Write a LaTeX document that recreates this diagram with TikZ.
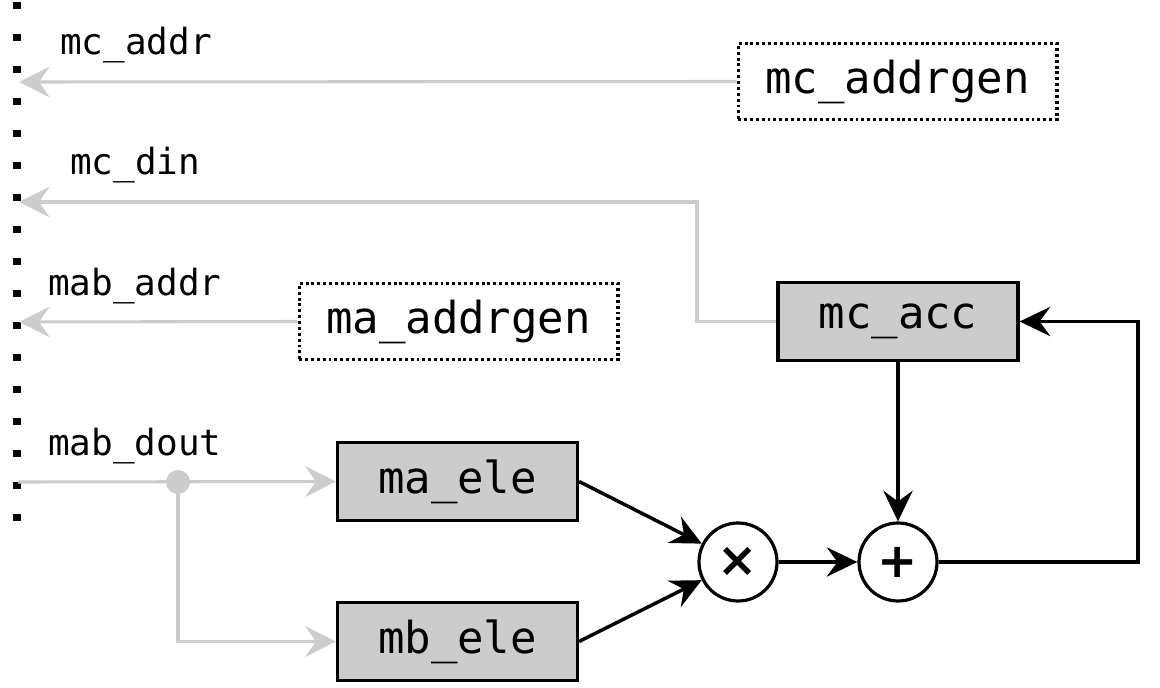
\documentclass[tikz,border=0pt]{standalone}
\usepackage{fontspec}
\setmonofont{DejaVu Sans Mono}
\newfontfamily\opfont{DejaVu Sans}
\usetikzlibrary{arrows.meta}
\definecolor{sig}{HTML}{CCCCCC}
\begin{document}
\begin{tikzpicture}[x=0.75pt,y=-0.75pt,
  blk/.style={draw=black,line width=2.4pt,fill=sig,minimum width=180pt,minimum height=59pt,inner sep=0pt,font=\ttfamily\fontsize{33}{36}\selectfont},
  gen/.style={draw=black,line width=2.5pt,dash pattern=on 2.2pt off 2.2pt,minimum width=239pt,minimum height=57pt,inner sep=0pt,font=\ttfamily\fontsize{33}{36}\selectfont},
  op/.style={circle,draw=black,line width=2.4pt,fill=white,minimum size=58.5pt,inner sep=0pt,font=\opfont\fontsize{36}{38}\selectfont\bfseries},
  lbl/.style={anchor=base west,inner sep=0pt,font=\ttfamily\fontsize{27}{30}\selectfont},
  gwire/.style={draw=sig,line width=2.3pt},
  garrow/.style={gwire,-{Stealth[length=23pt,width=23pt,inset=8pt]}},
  bwire/.style={draw=black,line width=2.6pt},
  barrow/.style={bwire,-{Stealth[length=23pt,width=22pt,inset=8pt]}}
]
\useasboundingbox (0,0) rectangle (1160,688);
% left dotted boundary
\draw[line width=5.5pt,dash pattern=on 5pt off 19pt] (17,2) -- (17,521);

% nodes
\node[gen] (mcag) at (897.5,81.5) {mc\_addrgen};
\node[gen] (maag) at (458.5,321.5) {ma\_addrgen};
\node[blk] (acc) at (898,321.5) {mc\_acc};
\node[blk] (mae) at (457.5,481.5) {ma\_ele};
\node[blk] (mbe) at (457.5,641.5) {mb\_ele};
\node[op] (mul) at (738,562) {×};
\node[op] (add) at (898,562) {+};

% labels
\node[lbl] (lmcaddr) at (60,55) {mc\_addr};
\node[lbl] (lmcdin) at (70,175) {mc\_din};
\node[lbl] (lmabaddr) at (48,295) {mab\_addr};
\node[lbl] (lmabdout) at (48,455) {mab\_dout};

% free ends
\coordinate (oaddr) at (19,82);
\coordinate (odin) at (19,202);
\coordinate (oabaddr) at (19,322);
\coordinate (iin) at (18,482);
\coordinate (split) at (178,482);
\coordinate (bend) at (697,321.5);
\coordinate (fb) at (1138,562);

% grey signals
\draw[garrow] (mcag.west) -- (oaddr);
\draw[garrow] (acc.west) -- (bend) |- (odin);
\draw[garrow] (maag.west) -- (oabaddr);
\draw[garrow] (iin) -- (mae.west);
\draw[garrow] (split) |- (mbe.west);
\fill[sig] (split) circle (9pt);

% black datapath
\draw[barrow] (mae.east) -- (mul);
\draw[barrow] (mbe.east) -- (mul);
\draw[barrow] (mul) -- (add);
\draw[barrow] (acc) -- (add);
\draw[barrow] (add.east) -- (fb) |- (acc.east);
\end{tikzpicture}
\end{document}
